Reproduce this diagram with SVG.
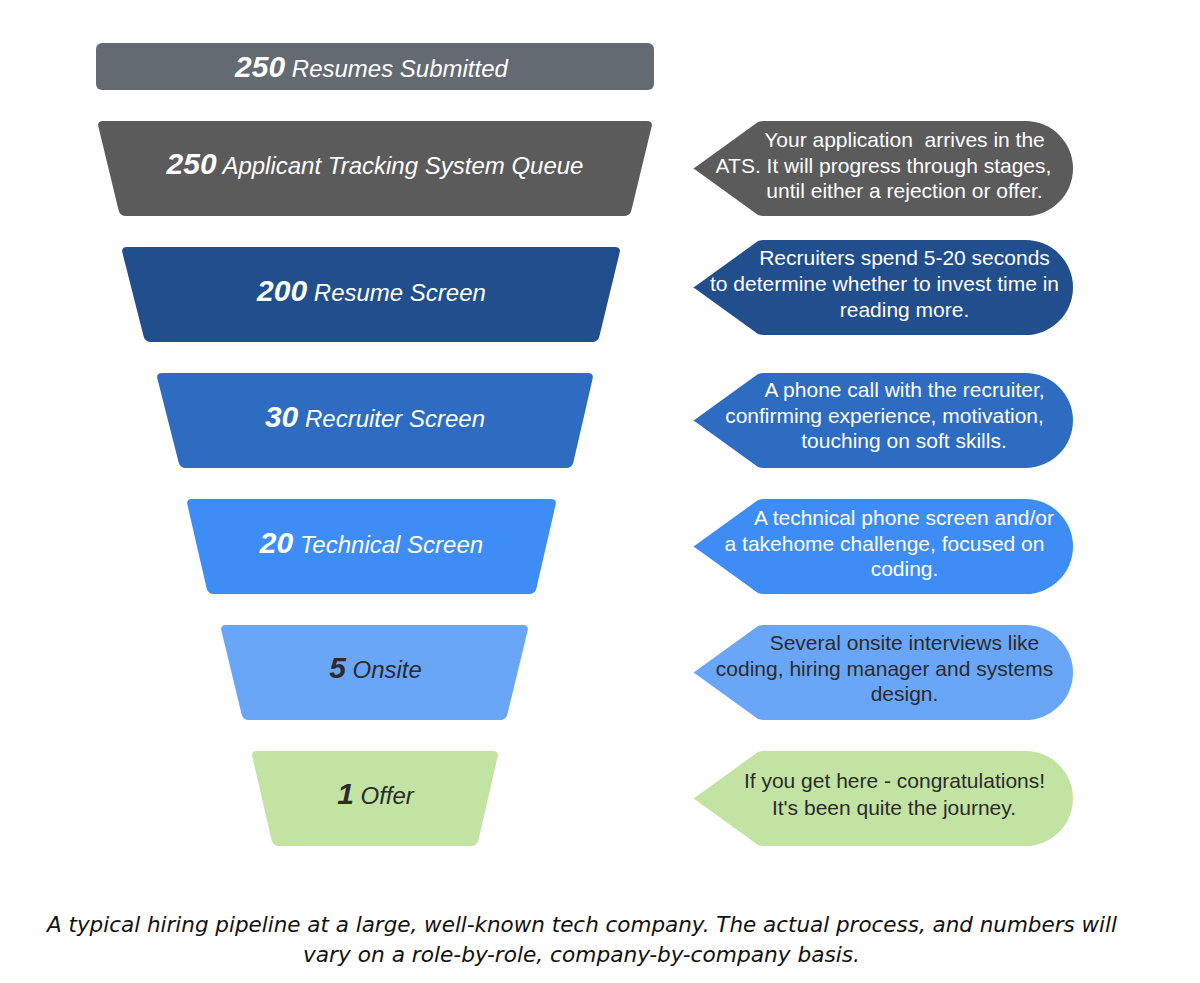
<svg xmlns="http://www.w3.org/2000/svg" width="1200" height="983" viewBox="0 0 1200 983">
<style>
.lbl{font-family:"Liberation Sans",Arial,sans-serif;font-style:italic;font-size:24px;text-anchor:middle;fill:#ffffff}
.num{font-weight:bold;font-size:30px}
.co{font-family:"Liberation Sans",Arial,sans-serif;font-size:21px;text-anchor:middle;fill:#ffffff}
.dark{fill:#2b2b2b}
.cap{font-family:"DejaVu Sans Condensed","DejaVu Sans",sans-serif;font-stretch:condensed;font-style:italic;font-size:22px;fill:#111111}
</style>
<rect width="1200" height="983" fill="#ffffff"/>

<g id="stage-submitted">
<rect x="96" y="43" width="558" height="47" rx="6" fill="#636a72"/>
<text class="lbl" x="371.5" y="77"><tspan class="num">250</tspan> Resumes Submitted</text>
</g>

<g id="stage-ats">
<path d="M103,121 H647 Q653,121 651.6,126.8 L631.4,210.2 Q630,216 624,216 H126 Q120,216 118.6,210.2 L98.4,126.8 Q97,121 103,121 Z" fill="#5b5b5b"/>
<text class="lbl" x="375" y="174"><tspan class="num">250</tspan> Applicant Tracking System Queue</text>
</g>
<g id="note-ats">
<path d="M695,167.5 L758,122 Q761,121 764,121 H1025.5 A47.5,47.5 0 0 1 1025.5,216 H764 Q761,216 758,215 L695,169.5 Q692,168.5 695,167.5 Z" fill="#5b5b5b"/>
<text class="co"><tspan x="904.5" y="147">Your application&#160; arrives in the</tspan><tspan x="883.5" y="172.5">ATS. It will progress through stages,</tspan><tspan x="904.5" y="198">until either a rejection or offer.</tspan></text>
</g>

<g id="stage-resume">
<path d="M127,247 H615 Q621,247 619.6,252.8 L599.4,336.2 Q598,342 592,342 H151 Q145,342 143.6,336.2 L122.4,252.8 Q121,247 127,247 Z" fill="#214e8c"/>
<text class="lbl" x="371.5" y="301"><tspan class="num">200</tspan> Resume Screen</text>
</g>
<g id="note-resume">
<path d="M695,286.5 L758,241 Q761,240 764,240 H1025.5 A47.5,47.5 0 0 1 1025.5,335 H764 Q761,335 758,334 L695,288.5 Q692,287.5 695,286.5 Z" fill="#214e8c"/>
<text class="co"><tspan x="904.5" y="265">Recruiters spend 5-20 seconds</tspan><tspan x="884.5" y="291">to determine whether to invest time in</tspan><tspan x="904.5" y="317">reading more.</tspan></text>
</g>

<g id="stage-recruiter">
<path d="M162,373 H588 Q594,373 592.6,378.8 L573.4,462.2 Q572,468 566,468 H186 Q180,468 178.6,462.2 L157.4,378.8 Q156,373 162,373 Z" fill="#2e6cc2"/>
<text class="lbl" x="375" y="427"><tspan class="num">30</tspan> Recruiter Screen</text>
</g>
<g id="note-recruiter">
<path d="M695,419.5 L758,374 Q761,373 764,373 H1025.5 A47.5,47.5 0 0 1 1025.5,468 H764 Q761,468 758,467 L695,421.5 Q692,420.5 695,419.5 Z" fill="#2e6cc2"/>
<text class="co"><tspan x="904.5" y="397">A phone call with the recruiter,</tspan><tspan x="884.5" y="422.5">confirming experience, motivation,</tspan><tspan x="904" y="448">touching on soft skills.</tspan></text>
</g>

<g id="stage-technical">
<path d="M192,499 H551 Q557,499 555.6,504.8 L536.4,588.2 Q535,594 529,594 H214 Q208,594 206.6,588.2 L187.4,504.8 Q186,499 192,499 Z" fill="#3e8cf6"/>
<text class="lbl" x="371.5" y="553"><tspan class="num">20</tspan> Technical Screen</text>
</g>
<g id="note-technical">
<path d="M695,545.5 L758,500 Q761,499 764,499 H1025.5 A47.5,47.5 0 0 1 1025.5,594 H764 Q761,594 758,593 L695,547.5 Q692,546.5 695,545.5 Z" fill="#3e8cf6"/>
<text class="co"><tspan x="904" y="525">A technical phone screen and/or</tspan><tspan x="884.5" y="550.5">a takehome challenge, focused on</tspan><tspan x="904.5" y="576">coding.</tspan></text>
</g>

<g id="stage-onsite">
<path d="M226,625 H523 Q529,625 527.6,630.8 L507.4,714.2 Q506,720 500,720 H249 Q243,720 241.6,714.2 L221.4,630.8 Q220,625 226,625 Z" fill="#6aa6f8"/>
<text class="lbl dark" x="375.5" y="678"><tspan class="num">5</tspan> Onsite</text>
</g>
<g id="note-onsite">
<path d="M695,671.5 L758,626 Q761,625 764,625 H1025.5 A47.5,47.5 0 0 1 1025.5,720 H764 Q761,720 758,719 L695,673.5 Q692,672.5 695,671.5 Z" fill="#6aa6f8"/>
<text class="co dark"><tspan x="904.5" y="650">Several onsite interviews like</tspan><tspan x="884.5" y="675.5">coding, hiring manager and systems</tspan><tspan x="904.5" y="701">design.</tspan></text>
</g>

<g id="stage-offer">
<path d="M257,751 H493 Q499,751 497.6,756.8 L478.4,840.2 Q477,846 471,846 H279 Q273,846 271.6,840.2 L252.4,756.8 Q251,751 257,751 Z" fill="#c3e3a3"/>
<text class="lbl dark" x="375.5" y="804"><tspan class="num">1</tspan> Offer</text>
</g>
<g id="note-offer">
<path d="M695,797.5 L758,752 Q761,751 764,751 H1025.5 A47.5,47.5 0 0 1 1025.5,846 H764 Q761,846 758,845 L695,799.5 Q692,798.5 695,797.5 Z" fill="#c3e3a3"/>
<text class="co dark"><tspan x="894.5" y="788">If you get here - congratulations!</tspan><tspan x="894" y="814.5">It's been quite the journey.</tspan></text>
</g>

<g id="connectors"></g>

<g id="caption">
<text class="cap" x="47" y="932" textLength="1070" lengthAdjust="spacingAndGlyphs">A typical hiring pipeline at a large, well-known tech company. The actual process, and numbers will</text>
<text class="cap" x="303" y="962" textLength="557" lengthAdjust="spacingAndGlyphs">vary on a role-by-role, company-by-company basis.</text>
</g>
</svg>
